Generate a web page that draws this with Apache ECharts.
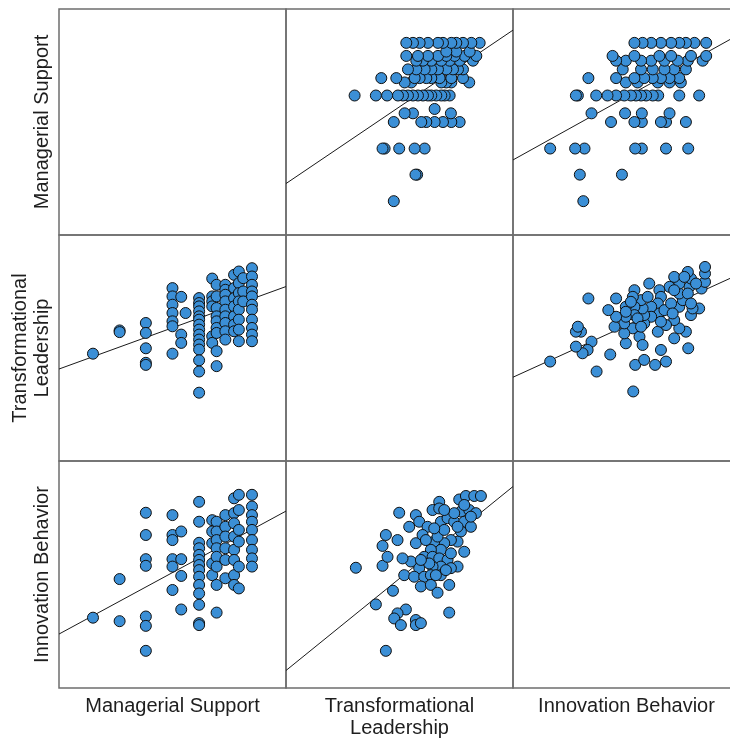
<!DOCTYPE html>
<html>
<head>
<meta charset="utf-8">
<script src="https://cdn.jsdelivr.net/npm/echarts@6/dist/echarts.min.js"></script>
<style>
html,body{margin:0;padding:0;background:#fff;}
#chart{width:730px;height:741px;}
</style>
</head>
<body>
<div id="chart"></div>
<script>
// Variables (order of the matrix rows / columns)
const varKeys = ['MS', 'TL', 'IB'];
const varLabels = ['Managerial Support', 'Transformational\nLeadership', 'Innovation Behavior'];

// Pair data
// [Managerial Support, Transformational Leadership]
const msTl = [
  [1.00,2.93],
  [1.67,3.49],[1.67,3.45],
  [2.33,3.67],[2.33,3.43],[2.33,3.06],[2.33,2.71],[2.33,2.66],
  [3.00,4.51],[3.00,4.31],[3.00,4.11],[3.00,3.91],[3.00,3.71],[3.00,3.59],[3.00,2.93],
  [3.22,4.30],[3.22,3.39],[3.22,3.19],
  [3.33,3.91],
  [3.67,4.27],[3.67,4.15],[3.67,4.07],[3.67,3.95],[3.67,3.83],[3.67,3.75],[3.67,3.63],[3.67,3.51],[3.67,3.39],[3.67,3.27],[3.67,3.15],[3.67,3.03],[3.67,2.77],[3.67,2.50],[3.67,1.99],
  [4.00,4.74],[4.00,4.31],[4.00,4.19],[4.00,4.07],[4.00,3.35],[4.00,3.19],
  [4.11,4.59],[4.11,4.31],[4.11,4.03],[4.11,3.83],[4.11,3.71],[4.11,3.55],[4.11,3.43],[4.11,2.99],[4.11,2.63],
  [4.33,4.59],[4.33,4.47],[4.33,4.35],[4.33,4.19],[4.33,3.99],[4.33,3.83],[4.33,3.67],[4.33,3.47],[4.33,3.27],
  [4.55,4.83],[4.55,4.51],[4.55,4.27],[4.55,4.07],[4.55,3.83],[4.55,3.63],[4.55,3.47],
  [4.67,4.91],[4.67,4.63],[4.67,4.39],[4.67,4.19],[4.67,3.99],[4.67,3.75],[4.67,3.51],[4.67,3.23],
  [4.78,4.75],[4.78,4.43],[4.78,4.19],
  [5.00,4.99],[5.00,4.79],[5.00,4.59],[5.00,4.43],[5.00,4.31],[5.00,4.11],[5.00,3.99],[5.00,3.75],[5.00,3.55],[5.00,3.39],[5.00,3.23]
];

// [Managerial Support, Innovation Behavior]
const msIb = [
  [1.00,1.88],
  [1.67,2.87],[1.67,1.79],
  [2.33,4.57],[2.33,4.00],[2.33,3.38],[2.33,3.21],[2.33,1.91],[2.33,1.67],[2.33,1.03],
  [3.00,4.51],[3.00,4.00],[3.00,3.87],[3.00,3.38],[3.00,3.19],[3.00,2.59],
  [3.22,4.09],[3.22,3.38],[3.22,2.95],[3.22,2.09],
  [3.67,4.85],[3.67,4.34],[3.67,3.80],[3.67,3.66],[3.67,3.49],[3.67,3.36],[3.67,3.23],[3.67,3.10],[3.67,2.93],[3.67,2.72],[3.67,2.50],[3.67,2.21],[3.67,1.74],[3.67,1.69],
  [4.00,4.38],[4.00,4.09],[4.00,3.79],[4.00,3.27],[4.00,2.97],
  [4.11,4.34],[4.11,4.09],[4.11,3.87],[4.11,3.66],[4.11,3.44],[4.11,3.19],[4.11,2.72],[4.11,2.01],
  [4.33,4.51],[4.33,4.21],[4.33,3.96],[4.33,3.66],[4.33,3.36],[4.33,2.89],
  [4.55,4.94],[4.55,4.56],[4.55,4.30],[4.55,3.96],[4.55,3.62],[4.55,3.36],[4.55,2.97],[4.55,2.72],
  [4.67,5.03],[4.67,4.64],[4.67,4.13],[4.67,3.83],[4.67,3.19],[4.67,2.63],
  [5.00,5.03],[5.00,4.73],[5.00,4.51],[5.00,4.34],[5.00,4.13],[5.00,3.87],[5.00,3.62],[5.00,3.40],[5.00,3.19]
];

// [Transformational Leadership, Innovation Behavior]
const tlIb = [
  [2.02,3.16],[2.74,1.03],[2.50,2.22],[2.91,2.57],[2.66,3.21],[2.66,3.72],[2.78,3.44],[2.74,4.00],
  [3.02,3.87],[3.06,4.57],[3.30,4.21],[3.46,4.51],[3.54,4.34],[3.46,3.79],[3.74,4.21],[3.62,4.00],
  [3.86,4.64],[4.02,4.85],[4.02,4.68],[4.06,4.34],[4.22,4.43],[4.38,4.34],[4.50,4.91],[4.66,5.00],
  [4.86,5.00],[5.02,5.00],[4.54,4.60],[4.74,4.64],[4.90,4.56],[4.62,4.34],[4.78,4.21],[4.54,4.09],
  [4.46,3.83],[4.62,3.57],[4.30,3.87],[4.14,3.79],[3.90,3.83],[4.06,3.62],[3.82,3.62],[3.66,3.44],
  [3.86,3.44],[4.02,3.40],[4.22,3.36],[4.46,3.19],[4.30,3.15],[4.06,3.19],[3.86,3.19],[3.54,3.15],
  [3.34,3.32],[3.14,3.40],[3.18,2.97],[3.42,2.93],[3.66,2.93],[3.82,2.97],[4.06,2.97],[3.58,2.68],
  [3.82,2.72],[3.98,2.52],[4.26,2.72],[4.26,2.01],[3.22,2.09],[3.02,1.99],[2.94,1.86],[3.10,1.69],
  [3.46,1.82],[3.46,1.69],[3.58,1.74],[3.70,3.87],[3.98,3.96],[3.78,3.27],[3.58,3.36],[3.94,2.97],
  [4.18,3.10],[4.30,3.53],[4.46,4.21],[4.38,4.56],[4.14,4.13],[3.90,4.17],[4.14,4.64],[4.78,4.47],
  [4.62,4.77]
];

// Fit lines: [intercept, slope] of "y on x"
const fitMsOnTl = [1.200, 0.712];
const fitTlOnMs = [2.51, 0.348];
const fitMsOnIb = [2.00, 0.547];
const fitIbOnMs = [1.38, 0.552];
const fitTlOnIb = [2.33, 0.428];
const fitIbOnTl = [0.228, 0.866];

// Axis ranges for each variable
const axisRange = { MS: [0.145, 5.856], TL: [0.344, 5.79], IB: [0.077, 5.897] };

const pairs = { 'MS|TL': msTl, 'MS|IB': msIb, 'TL|IB': tlIb };
const fits = {
  'MS|TL': fitMsOnTl, 'TL|MS': fitTlOnMs,
  'MS|IB': fitMsOnIb, 'IB|MS': fitIbOnMs,
  'TL|IB': fitTlOnIb, 'IB|TL': fitIbOnTl
};

function pointsFor(xVar, yVar) {
  if (pairs[xVar + '|' + yVar]) return pairs[xVar + '|' + yVar].map(p => [p[0], p[1]]);
  return pairs[yVar + '|' + xVar].map(p => [p[1], p[0]]);
}

const colLeft = [59, 286, 513];
const colWidth = 227;
const rowTop = [9, 235, 461];
const rowHeight = [226, 226, 227];

const grids = [], xAxes = [], yAxes = [], series = [];
let gi = 0;
for (let r = 0; r < 3; r++) {
  for (let c = 0; c < 3; c++) {
    grids.push({
      left: colLeft[c], top: rowTop[r], width: colWidth, height: rowHeight[r],
      outerBoundsMode: 'none', containLabel: false,
      show: true, borderColor: '#6e6e6e', borderWidth: 1.5, backgroundColor: 'transparent'
    });
    const xv = varKeys[c], yv = varKeys[r];
    xAxes.push({ type: 'value', gridIndex: gi, min: axisRange[xv][0], max: axisRange[xv][1], show: false });
    yAxes.push({ type: 'value', gridIndex: gi, min: axisRange[yv][0], max: axisRange[yv][1], show: false });
    if (r !== c) {
      const f = fits[yv + '|' + xv];
      const x0 = axisRange[xv][0], x1 = axisRange[xv][1];
      series.push({
        type: 'line', xAxisIndex: gi, yAxisIndex: gi, silent: true, z: 3,
        symbol: 'none', animation: false, clip: true,
        lineStyle: { color: '#1a1a1a', width: 1 },
        data: [[x0, f[0] + f[1] * x0], [x1, f[0] + f[1] * x1]]
      });
      series.push({
        type: 'scatter', xAxisIndex: gi, yAxisIndex: gi, z: 4, animation: false,
        symbol: 'circle', symbolSize: 11,
        itemStyle: { color: '#3b8fd6', borderColor: '#101010', borderWidth: 1, opacity: 1 },
        data: pointsFor(xv, yv)
      });
    }
    gi++;
  }
}

const labelFont = '"Liberation Sans", Arial, sans-serif';
const graphics = [];
for (let c = 0; c < 3; c++) {
  graphics.push({
    type: 'text', x: colLeft[c] + colWidth / 2, y: 695, silent: true,
    style: { text: varLabels[c], fill: '#1e1e1e', font: '20px ' + labelFont,
      textAlign: 'center', textVerticalAlign: 'top', lineHeight: 22 }
  });
}
for (let r = 0; r < 3; r++) {
  graphics.push({
    type: 'text', x: 53, y: rowTop[r] + rowHeight[r] / 2, rotation: Math.PI / 2, silent: true,
    style: { text: varLabels[r], fill: '#1e1e1e', font: '20px ' + labelFont,
      textAlign: 'center', textVerticalAlign: 'bottom', lineHeight: 22 }
  });
}

const chart = echarts.init(document.getElementById('chart'), null, { renderer: 'canvas' });
chart.setOption({
  animation: false,
  backgroundColor: '#ffffff',
  grid: grids,
  xAxis: xAxes,
  yAxis: yAxes,
  series: series,
  graphic: graphics
});
</script>
</body>
</html>
